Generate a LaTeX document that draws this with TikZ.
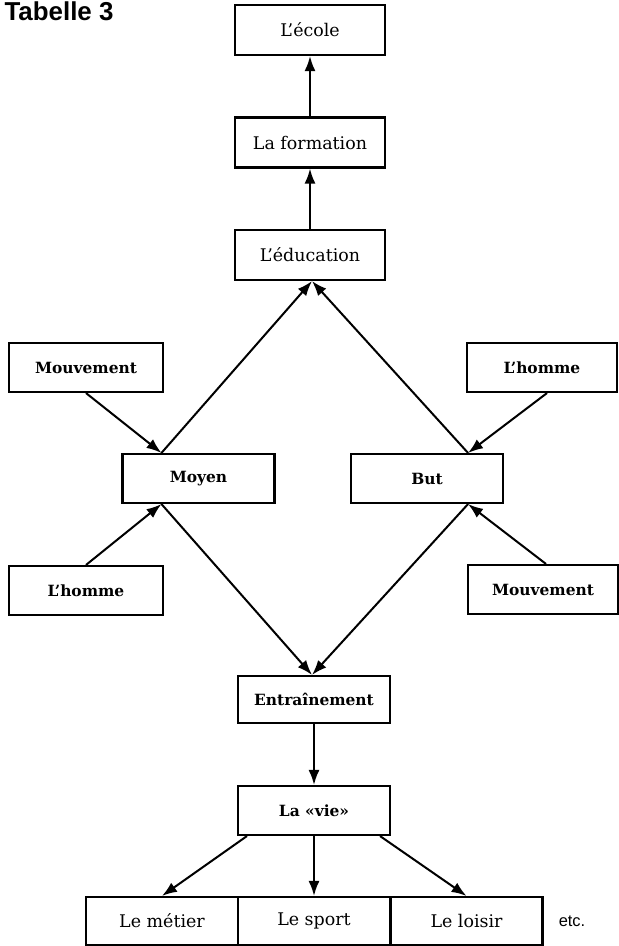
\documentclass[tikz,border=0pt]{standalone}
\usepackage{fontspec}
\setmainfont{DejaVu Serif}
\newfontfamily\titlefont{Liberation Sans}
\usetikzlibrary{calc,positioning,arrows.meta}

\begin{document}
\begin{tikzpicture}[x=1bp,y=-1bp,
    box/.style={draw,line width=2.1bp,minimum width=152bp,minimum height=49bp,
      inner sep=0pt,font=\fontsize{17.5}{20}\selectfont},
    bbox/.style={box,font=\fontsize{15.5}{18}\selectfont\bfseries},
    arr/.style={line width=2bp,-{Latex[length=15bp,width=11bp]}}]
\useasboundingbox (0,0) rectangle (619,946);
\node[anchor=base west,font=\titlefont\fontsize{26}{30}\selectfont\bfseries] (title) at (1,20) {Tabelle 3};
\node[box,minimum width=150bp,minimum height=50bp] (ecole) at (310,30) {L’école};
\node[box,minimum width=150bp,minimum height=50bp] (formation) at (310,142.5) {La formation};
\node[box,minimum width=150bp,minimum height=50bp] (education) at (310,255) {L’éducation};
\node[bbox,minimum width=154bp] (mouvl) at (86,367.5) {Mouvement};
\node[bbox] (moyen) at (198.5,478.5) {Moyen};
\node[bbox,minimum width=154bp] (hommel) at (86,590.5) {L’homme};
\node[bbox,minimum width=150bp] (hommer) at (542,367.5) {L’homme};
\node[bbox] (but) at (427,478.5) {But};
\node[bbox,minimum width=150bp] (mouvr) at (543,589.5) {Mouvement};
\node[bbox,minimum height=47bp] (entr) at (314,699.5) {Entraînement};
\node[bbox] (vie) at (314,810.5) {La «vie»};
\node[box,minimum height=48bp] (metier) at (162,921) {Le métier};
\node[box,minimum height=48bp] (sport) at (314,921) {Le sport};
\node[box,minimum height=48bp] (loisir) at (466.5,921) {Le loisir};
\node[font=\titlefont\fontsize{16.5}{19}\selectfont] (etc) at (572,921) {etc.};
% points where the lines meet the boxes
\coordinate (moyent) at ([xshift=40bp]moyen.north west);
\coordinate (moyenb) at ([xshift=40bp]moyen.south west);
\coordinate (butt) at ([xshift=-36bp]but.north east);
\coordinate (butb) at ([xshift=-36bp]but.south east);
\coordinate (edub) at ([xshift=2bp]education.south);
\coordinate (entrt) at ([xshift=-2bp]entr.north);
\coordinate (viel) at ([xshift=10bp]vie.south west);
\coordinate (vier) at ([xshift=-11bp]vie.south east);
\draw[arr] (formation) -- (ecole);
\draw[arr] (education) -- (formation);
\draw[arr] (moyent) -- (edub);
\draw[arr] (butt) -- (edub);
\draw[arr] (mouvl.south) -- (moyent);
\draw[arr] (hommel.north) -- (moyenb);
\draw[arr] ([xshift=5bp]hommer.south) -- (butt);
\draw[arr] ([xshift=3bp]mouvr.north) -- (butb);
\draw[arr] (moyenb) -- (entrt);
\draw[arr] (butb) -- (entrt);
\draw[arr] (entr) -- (vie);
\draw[arr] (viel) -- (metier.north);
\draw[arr] (vie) -- (sport);
\draw[arr] (vier) -- (loisir.north);
\end{tikzpicture}
\end{document}
